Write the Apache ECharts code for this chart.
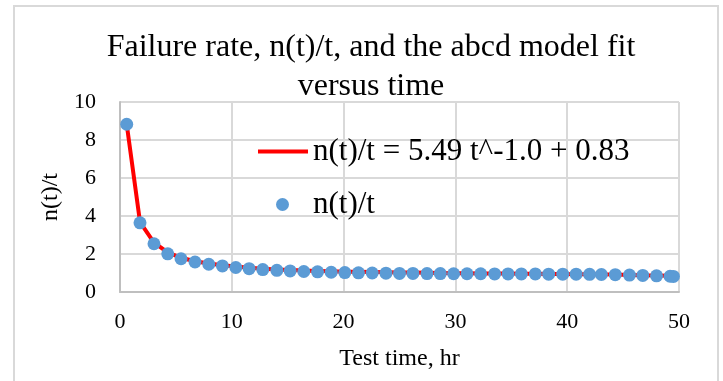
<!DOCTYPE html>
<html>
<head>
<meta charset="utf-8">
<script src="https://cdn.jsdelivr.net/npm/echarts@6/dist/echarts.min.js"></script>
<style>
  html, body { margin: 0; padding: 0; background: #fff; }
  #chart { width: 723px; height: 381px; }
</style>
</head>
<body>
<div id="chart"></div>
<script>
// test time, hr
const times = [0.60, 1.79, 3.04, 4.27, 5.46, 6.71, 7.94, 9.16, 10.36, 11.55, 12.77, 14.03, 15.22, 16.44,
  17.67, 18.89, 20.11, 21.33, 22.56, 23.79, 25.0, 26.2, 27.46, 28.65, 29.84, 31.04, 32.26, 33.51,
  34.71, 35.9, 37.15, 38.34, 39.6, 40.8, 42.0, 43.06, 44.3, 45.57, 46.76, 47.99, 49.2, 49.5]
// n(t)/t measured
const rateValues = [8.83, 3.64, 2.54, 2.01, 1.75, 1.58, 1.46, 1.37, 1.29, 1.23, 1.18, 1.14, 1.11, 1.08,
  1.06, 1.04, 1.02, 1.01, 1.00, 0.99, 0.98, 0.98, 0.97, 0.97, 0.96, 0.96, 0.96, 0.95,
  0.95, 0.95, 0.95, 0.94, 0.94, 0.94, 0.93, 0.92, 0.91, 0.89, 0.87, 0.85, 0.83, 0.82]
// abcd model fit
const fitValues = [8.83, 3.68, 2.60, 2.08, 1.80, 1.62, 1.50, 1.41, 1.34, 1.28, 1.23, 1.19, 1.16, 1.13,
  1.11, 1.09, 1.07, 1.06, 1.05, 1.04, 1.03, 1.02, 1.01, 1.00, 0.99, 0.99, 0.98, 0.97,
  0.97, 0.96, 0.96, 0.95, 0.95, 0.94, 0.94, 0.93, 0.92, 0.90, 0.88, 0.87, 0.85, 0.84]
const fitName = 'n(t)/t = 5.49 t^-1.0 + 0.83'
const rateName = 'n(t)/t'

const serif = "'Liberation Serif', 'Times New Roman', serif"

const chart = echarts.init(document.getElementById('chart'))
chart.setOption({
  animation: false,
  backgroundColor: '#fff',
  textStyle: { fontFamily: serif },
  title: {
    text: 'Failure rate, n(t)/t, and the abcd model fit\nversus time',
    left: 366,
    textAlign: 'center',
    top: 23,
    textStyle: {
      fontFamily: serif,
      fontWeight: 'normal',
      fontSize: 32,
      lineHeight: 39,
      color: '#000'
    }
  },
  graphic: [{
    type: 'rect',
    shape: { x: 14, y: 6, width: 704, height: 390 },
    style: { fill: 'none', stroke: '#d9d9d9', lineWidth: 2 },
    silent: true
  }],
  grid: {
    left: 120,
    right: 44,
    top: 102,
    bottom: 89
  },
  legend: [{
    data: [{ name: fitName, icon: 'rect' }],
    left: 253,
    top: 131,
    itemWidth: 50,
    itemHeight: 4,
    textStyle: { fontFamily: serif, fontSize: 31, color: '#000' }
  }, {
    data: [{ name: rateName, icon: 'circle' }],
    left: 271,
    top: 184,
    itemWidth: 13,
    itemHeight: 13,
    textStyle: { fontFamily: serif, fontSize: 31, color: '#000', padding: [0, 0, 0, 19] }
  }],
  xAxis: {
    type: 'value',
    min: 0,
    max: 50,
    interval: 10,
    name: 'Test time, hr',
    nameLocation: 'middle',
    nameGap: 55,
    nameTextStyle: { fontFamily: serif, fontSize: 24, color: '#000' },
    axisLine: { show: true, lineStyle: { color: '#bfbfbf', width: 2 } },
    axisTick: { show: false },
    axisLabel: { margin: 19, fontFamily: serif, fontSize: 22, color: '#000' },
    splitLine: { show: true, lineStyle: { color: '#d9d9d9', width: 2 } }
  },
  yAxis: {
    type: 'value',
    min: 0,
    max: 10,
    interval: 2,
    name: 'n(t)/t',
    nameLocation: 'middle',
    nameRotate: 90,
    nameGap: 56,
    nameTextStyle: { fontFamily: serif, fontSize: 24, color: '#000' },
    axisLine: { show: true, lineStyle: { color: '#bfbfbf', width: 2 } },
    axisTick: { show: false },
    axisLabel: { margin: 24, fontFamily: serif, fontSize: 22, color: '#000' },
    splitLine: { show: true, lineStyle: { color: '#d9d9d9', width: 2 } }
  },
  series: [{
    name: fitName,
    type: 'line',
    data: times.map((t, i) => [t, fitValues[i]]),
    showSymbol: false,
    symbol: 'none',
    color: '#ff0000',
    lineStyle: { color: '#ff0000', width: 4 },
    z: 2
  }, {
    name: rateName,
    type: 'scatter',
    data: times.map((t, i) => [t, rateValues[i]]),
    symbol: 'circle',
    symbolSize: 13,
    color: '#5b9bd5',
    itemStyle: { color: '#5b9bd5', opacity: 1 },
    z: 3
  }]
})
</script>
</body>
</html>
